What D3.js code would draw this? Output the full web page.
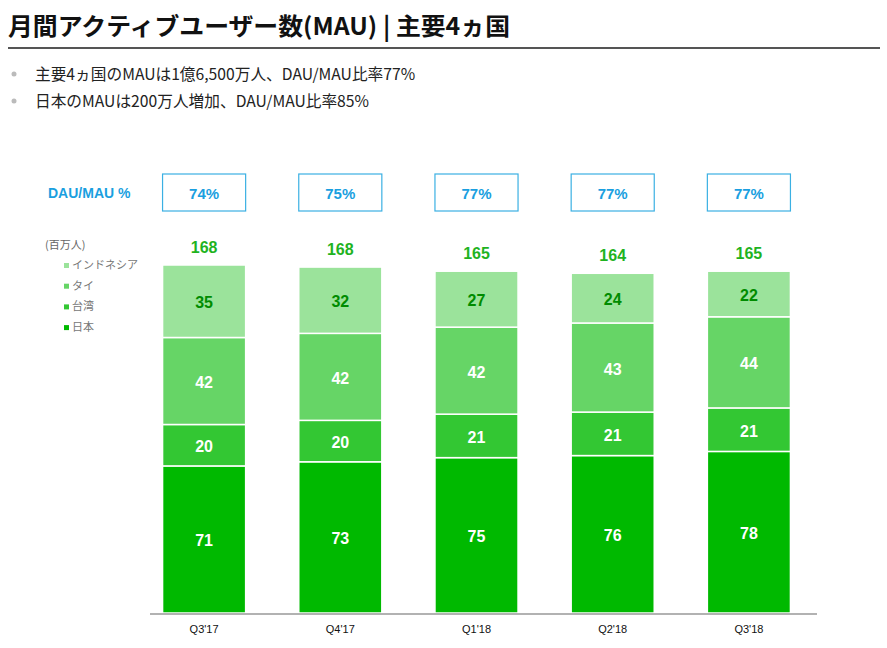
<!DOCTYPE html>
<html>
<head>
<meta charset="utf-8">
<script src="https://cdn.jsdelivr.net/npm/d3@7"></script>
<style>
  body { margin: 0; background: #fff; }
  svg { display: block; }
</style>
</head>
<body>
<svg id="chart" width="887" height="648"></svg>
<script>
// data
const quarters = ["Q3'17", "Q4'17", "Q1'18", "Q2'18", "Q3'18"];
const japan = [71, 73, 75, 76, 78];
const taiwan = [20, 20, 21, 21, 21];
const thailand = [42, 42, 42, 43, 44];
const indonesia = [35, 32, 27, 24, 22];
const totals = [168, 168, 165, 164, 165];
const dauMau = [74, 75, 77, 77, 77];
const seriesNames = ["日本", "台湾", "タイ", "インドネシア"];
const bullets = [
  "主要4ヵ国のMAUは1億6,500万人、DAU/MAU比率77%",
  "日本のMAUは200万人増加、DAU/MAU比率85%"
];

const colors = ["#00b900", "#33c733", "#66d566", "#9be39b"];
const labelColors = ["#fff", "#fff", "#fff", "#008c00"];
const jp = "'Noto Sans CJK JP', 'Noto Sans', sans-serif";
const num = "'Liberation Sans', Arial, sans-serif";

const svg = d3.select("#chart");

// title
svg.append("text")
  .attr("x", 8).attr("y", 35)
  .style("font-family", jp).style("font-size", "24px").style("font-weight", "bold")
  .attr("fill", "#111")
  .attr("textLength", 502).attr("lengthAdjust", "spacingAndGlyphs")
  .text("月間アクティブユーザー数(MAU) | 主要4ヵ国");

svg.append("line")
  .attr("x1", 8).attr("x2", 880).attr("y1", 48).attr("y2", 48)
  .attr("stroke", "#555").attr("stroke-width", 2);

// bullets
svg.selectAll(".bullet")
  .data(bullets)
  .enter()
  .append("g")
  .attr("transform", (d, i) => `translate(0, ${80 + i * 27})`)
  .each(function(d) {
    const g = d3.select(this);
    g.append("circle").attr("cx", 14).attr("cy", -6).attr("r", 2.5).attr("fill", "#bbb");
    g.append("text").attr("x", 35).attr("y", 0)
      .style("font-family", jp).style("font-size", "15.7px").attr("fill", "#222")
      .text(d);
  });

// scales
const x = d3.scaleBand()
  .domain(quarters)
  .range([136, 817])
  .paddingInner(0.39)
  .paddingOuter(0.195);

const y = d3.scaleLinear()
  .domain([0, 168])
  .range([613, 265]);

const rows = quarters.map((q, i) => ({
  q, Japan: japan[i], Taiwan: taiwan[i], Thailand: thailand[i], Indonesia: indonesia[i]
}));
const keys = ["Japan", "Taiwan", "Thailand", "Indonesia"];
const stack = d3.stack().keys(keys)(rows);

const layer = svg.append("g");
stack.forEach((s, k) => {
  const g = layer.append("g");
  g.selectAll("rect")
    .data(s)
    .enter()
    .append("rect")
    .attr("x", d => x(d.data.q))
    .attr("y", d => y(d[1]))
    .attr("width", x.bandwidth())
    .attr("height", d => y(d[0]) - y(d[1]))
    .attr("fill", colors[k])
    .attr("stroke", "#fff")
    .attr("stroke-width", 1.5);
  g.selectAll("text")
    .data(s)
    .enter()
    .append("text")
    .attr("x", d => x(d.data.q) + x.bandwidth() / 2)
    .attr("y", d => (y(d[0]) + y(d[1])) / 2 + 7)
    .attr("text-anchor", "middle")
    .style("font-family", num).style("font-size", "16px").style("font-weight", "bold")
    .attr("fill", labelColors[k])
    .text(d => d.data[keys[k]]);
});

// totals
svg.selectAll(".total")
  .data(quarters)
  .enter()
  .append("text")
  .attr("x", d => x(d) + x.bandwidth() / 2)
  .attr("y", (d, i) => y(d3.sum(keys, k => rows[i][k])) - 12)
  .attr("text-anchor", "middle")
  .style("font-family", num).style("font-size", "16px").style("font-weight", "bold")
  .attr("fill", "#1fb31f")
  .text((d, i) => totals[i]);

// x axis
svg.append("line")
  .attr("x1", 150).attr("x2", 817).attr("y1", 614).attr("y2", 614)
  .attr("stroke", "#999").attr("stroke-width", 1.5);

svg.selectAll(".xlabel")
  .data(quarters)
  .enter()
  .append("text")
  .attr("x", d => x(d) + x.bandwidth() / 2)
  .attr("y", 633)
  .attr("text-anchor", "middle")
  .style("font-family", num).style("font-size", "11px")
  .attr("fill", "#111")
  .text(d => d);

// DAU/MAU boxes
svg.append("text")
  .attr("x", 48).attr("y", 198)
  .style("font-family", num).style("font-size", "14px").style("font-weight", "bold")
  .attr("fill", "#1a9fe0")
  .text("DAU/MAU %");

const box = svg.selectAll(".box")
  .data(quarters)
  .enter()
  .append("g");
box.append("rect")
  .attr("x", d => x(d))
  .attr("y", 174)
  .attr("width", x.bandwidth())
  .attr("height", 37)
  .attr("fill", "#fff")
  .attr("stroke", "#3bb0e3")
  .attr("stroke-width", 1.2);
box.append("text")
  .attr("x", d => x(d) + x.bandwidth() / 2)
  .attr("y", 199)
  .attr("text-anchor", "middle")
  .style("font-family", num).style("font-size", "15px").style("font-weight", "bold")
  .attr("fill", "#1a9fe0")
  .text((d, i) => dauMau[i] + "%");

// legend
svg.append("text")
  .attr("x", 45).attr("y", 249)
  .style("font-family", jp).style("font-size", "11px")
  .attr("fill", "#666")
  .text("(百万人)");

const legendOrder = [3, 2, 1, 0];
const lg = svg.selectAll(".legend")
  .data(legendOrder)
  .enter()
  .append("g")
  .attr("transform", (d, i) => `translate(64, ${269 + i * 20.7})`);
lg.append("rect")
  .attr("x", 0).attr("y", -6).attr("width", 5).attr("height", 5)
  .attr("fill", d => colors[d]);
lg.append("text")
  .attr("x", 8).attr("y", 0)
  .style("font-family", jp).style("font-size", "11px")
  .attr("fill", "#777")
  .text(d => seriesNames[d]);
</script>
</body>
</html>
